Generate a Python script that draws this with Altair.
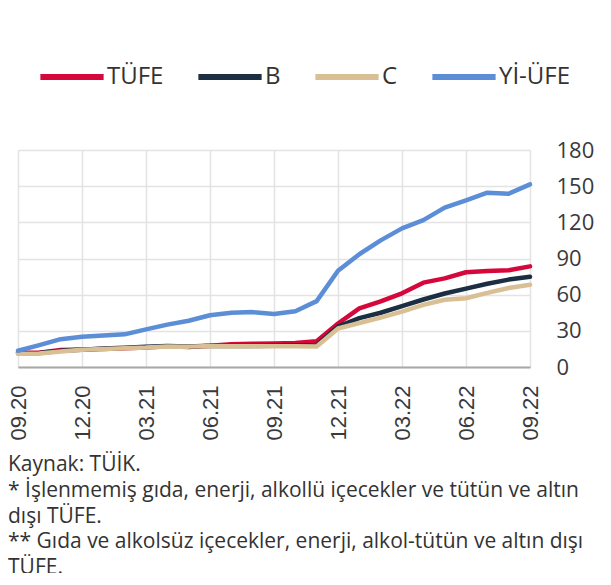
import altair as alt
import pandas as pd

months = ["09.20", "10.20", "11.20", "12.20", "01.21", "02.21", "03.21", "04.21", "05.21",
          "06.21", "07.21", "08.21", "09.21", "10.21", "11.21", "12.21", "01.22", "02.22",
          "03.22", "04.22", "05.22", "06.22", "07.22", "08.22", "09.22"]
tick_labels = ["09.20", "12.20", "03.21", "06.21", "09.21", "12.21", "03.22", "06.22", "09.22"]

tufe = [11.75, 11.89, 14.03, 14.60, 14.97, 15.61, 16.19, 17.14, 16.59, 17.53, 18.95, 19.25,
        19.58, 19.89, 21.31, 36.08, 48.69, 54.44, 61.14, 69.97, 73.50, 78.62, 79.60, 80.21, 83.45]
b_idx = [11.4, 11.6, 13.4, 14.4, 15.4, 16.0, 16.9, 17.5, 17.0, 17.6, 17.5, 17.5,
         17.7, 17.8, 18.0, 33.5, 40.5, 45.0, 50.5, 56.0, 61.0, 65.0, 69.0, 72.5, 74.8]
c_idx = [11.0, 11.2, 12.8, 14.3, 15.0, 15.6, 16.1, 17.0, 16.9, 17.5, 17.2, 17.2,
         17.2, 17.2, 17.0, 31.9, 36.5, 41.0, 46.0, 51.5, 55.8, 57.0, 61.5, 65.5, 68.3]
yiufe = [13.5, 18.20, 23.11, 25.15, 26.16, 27.09, 31.20, 35.17, 38.33, 42.89, 44.92, 45.52,
         43.96, 46.31, 54.62, 79.89, 93.53, 105.01, 114.97, 121.82, 132.16, 138.31, 144.61, 143.75, 151.50]

series_names = ["TÜFE", "B", "C", "Yİ-ÜFE"]
series_colors = ["#D6083B", "#1C2E42", "#D9BF94", "#5B8ED6"]
series_values = [tufe, b_idx, c_idx, yiufe]

footnotes = [
    "Kaynak: TÜİK.",
    "* İşlenmemiş gıda, enerji, alkollü içecekler ve tütün ve altın",
    "dışı TÜFE.",
    "** Gıda ve alkolsüz içecekler, enerji, alkol-tütün ve altın dışı",
    "TÜFE.",
]

rows = []
for name, vals in zip(series_names, series_values):
    for i, (m, v) in enumerate(zip(months, vals)):
        rows.append({"idx": i, "month": m, "series": name, "value": v, "ord": series_names.index(name)})
df = pd.DataFrame(rows)

label_array = "[" + ",".join(f"'{t}'" for t in tick_labels) + "]"

chart = alt.Chart(df).mark_line(strokeWidth=4.5, strokeJoin="round", strokeCap="round").encode(
    x=alt.X("idx:Q",
            scale=alt.Scale(domain=[0, 24], nice=False, zero=False),
            axis=alt.Axis(values=list(range(0, 25, 3)), labelExpr=f"{label_array}[datum.value/3]",
                          title=None, labelAngle=-90, labelAlign="right", labelBaseline="middle",
                          labelFont="Liberation Sans", labelFontSize=22, labelColor="#3a3a3a",
                          labelPadding=18, ticks=False, domain=True, domainColor="#a8a8a8",
                          domainWidth=2, grid=True, gridColor="#e3e3e3", gridWidth=1.5)),
    y=alt.Y("value:Q",
            scale=alt.Scale(domain=[0, 180], nice=False),
            axis=alt.Axis(orient="right", values=[0, 30, 60, 90, 120, 150, 180], title=None,
                          labelFont="Open Sans", labelFontSize=22, labelColor="#3a3a3a",
                          labelAlign="left", labelPadding=26, ticks=False, domain=False,
                          grid=True, gridColor="#e3e3e3", gridWidth=1.5)),
    color=alt.Color("series:N",
                    scale=alt.Scale(domain=series_names, range=series_colors),
                    legend=alt.Legend(title=None, orient="none", direction="horizontal",
                                      legendX=19, legendY=-108,
                                      symbolType="stroke", symbolSize=4000, symbolStrokeWidth=6,
                                      labelFont="Open Sans", labelFontSize=24, labelColor="#333333",
                                      labelOffset=0, columnPadding=22)),
    order=alt.Order("ord:Q"),
    detail="series:N",
).properties(
    width=512,
    height=217,
    title=alt.Title(footnotes, orient="bottom", anchor="start", frame="group", dx=-10, offset=14,
                    font="Open Sans", fontSize=21, fontWeight="normal", color="#333333",
                    lineHeight=25.8, baseline="top"),
    autosize=alt.AutoSizeParams(type="none"),
    padding={"left": 10, "top": 142, "right": 73, "bottom": 206},
).configure_view(stroke=None).configure(background="white")

chart.save("out.html", embed_options={"renderer": "svg", "actions": False})
